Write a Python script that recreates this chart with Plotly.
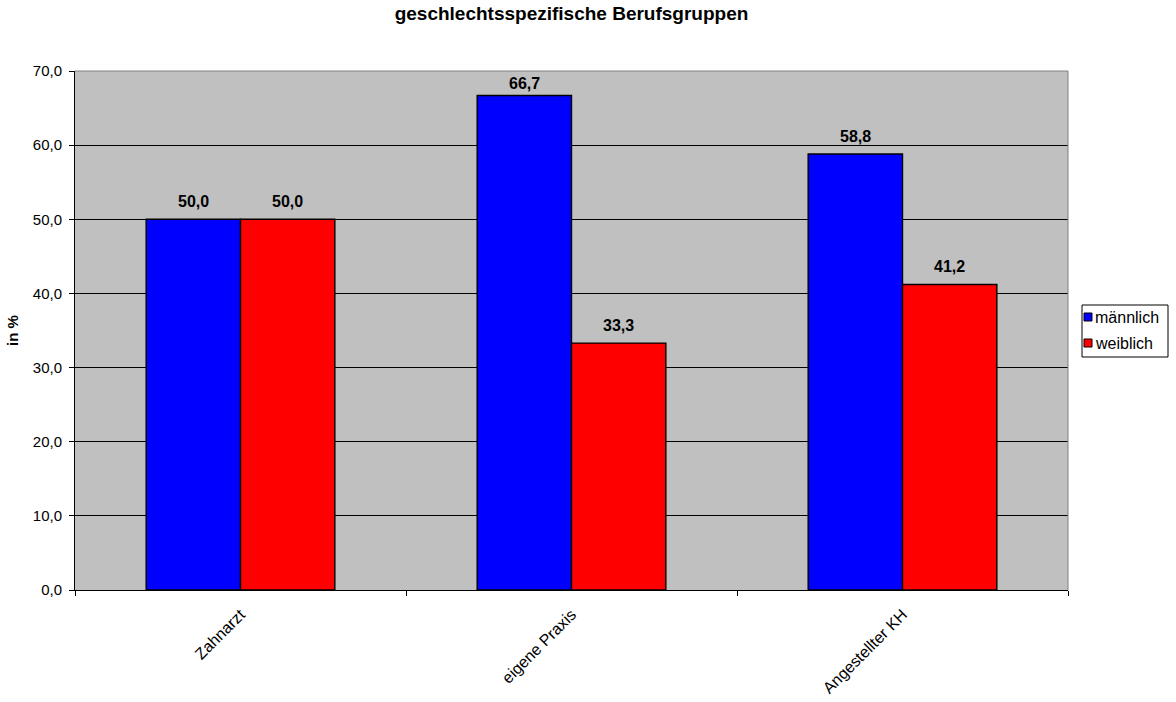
import plotly.graph_objects as go

categories = ["Zahnarzt", "eigene Praxis", "Angestellter KH"]
maennlich = [50.0, 66.7, 58.8]
weiblich = [50.0, 33.3, 41.2]
y_ticks = [0, 10, 20, 30, 40, 50, 60, 70]

series = [("männlich", maennlich, "#0000FF"), ("weiblich", weiblich, "#FF0000")]

FONT = "Liberation Sans, Arial, sans-serif"
W, H = 1176, 702
L, R, T, B = 75, 108, 71, 112
PW, PH = W - L - R, H - T - B
Y_MAX = 70
BARGAP = 0.43
BAR_W = PW / len(categories) * (1 - BARGAP) / len(series)


def px_x(x):
    return (x - L) / PW


def px_y(y):
    return (H - B - y) / PH


fig = go.Figure()
for name, vals, color in series:
    fig.add_trace(go.Bar(
        x=categories, y=vals, name=name,
        marker=dict(color=color, line=dict(color="#000000", width=1.4)),
        showlegend=False,
    ))

# Value labels above the bars, kept inside the plot area near the top
for s, (name, vals, _) in enumerate(series):
    xshift = (s - (len(series) - 1) / 2) * BAR_W
    for cat, v in zip(categories, vals):
        bar_top = T + PH * (1 - v / Y_MAX)
        yshift = min(18, bar_top - (T + 12))
        fig.add_annotation(
            x=cat, y=v, xref="x", yref="y", xshift=xshift, yshift=yshift,
            xanchor="center", yanchor="middle", showarrow=False,
            text=f"<b>{v:.1f}</b>".replace(".", ","),
            font=dict(family=FONT, size=16, color="#000000"),
        )

fig.update_layout(
    width=W, height=H,
    margin=dict(l=L, r=R, t=T, b=B, autoexpand=False),
    paper_bgcolor="#FFFFFF",
    plot_bgcolor="#C0C0C0",
    barmode="group",
    bargap=BARGAP,
    bargroupgap=0,
    separators=",.",
    font=dict(family=FONT, size=15, color="#000000"),
    title=dict(
        text="<b>geschlechtsspezifische Berufsgruppen</b>",
        x=0.5, xanchor="center", xref="paper",
        y=1 - 13 / H, yanchor="middle",
        font=dict(family=FONT, size=19, color="#000000"),
    ),
    showlegend=False,
)

fig.update_xaxes(
    tickangle=-45,
    showgrid=False,
    showline=True, linecolor="#000000", linewidth=1,
    ticks="outside", ticklen=5, tickcolor="#000000",
    tickson="boundaries",
    ticklabelstandoff=8,
    tickfont=dict(family=FONT, size=16, color="#000000"),
)
fig.update_yaxes(
    range=[0, Y_MAX],
    tickvals=y_ticks,
    tickformat=".1f",
    showgrid=True, gridcolor="#000000", gridwidth=1,
    showline=True, linecolor="#000000", linewidth=1,
    ticks="outside", ticklen=5, tickcolor="#000000",
    ticklabelstandoff=4,
    tickfont=dict(family=FONT, size=15, color="#000000"),
    title=dict(text="<b>in %</b>", standoff=10,
               font=dict(family=FONT, size=15, color="#000000")),
    zeroline=False,
)

# Frame of the plot area on top and right
fig.add_shape(type="line", xref="paper", yref="paper", x0=0, x1=1, y0=1, y1=1,
              line=dict(color="#808080", width=1))
fig.add_shape(type="line", xref="paper", yref="paper", x0=1, x1=1, y0=0, y1=1,
              line=dict(color="#808080", width=1))

# Legend box with square swatches
fig.add_shape(type="rect", xref="paper", yref="paper",
              x0=px_x(1082), x1=px_x(1168), y0=px_y(357), y1=px_y(305),
              line=dict(color="#000000", width=1), fillcolor="#FFFFFF")
for i, (name, _, color) in enumerate(series):
    cy = 317 + i * 26
    fig.add_shape(type="rect", xref="paper", yref="paper",
                  x0=px_x(1084), x1=px_x(1092), y0=px_y(cy + 4), y1=px_y(cy - 4),
                  line=dict(color="#000000", width=1), fillcolor=color)
    fig.add_annotation(xref="paper", yref="paper", x=px_x(1093), y=px_y(cy),
                       xanchor="left", yanchor="middle", showarrow=False,
                       text=name, font=dict(family=FONT, size=16, color="#000000"))

fig.write_html("out.html")
